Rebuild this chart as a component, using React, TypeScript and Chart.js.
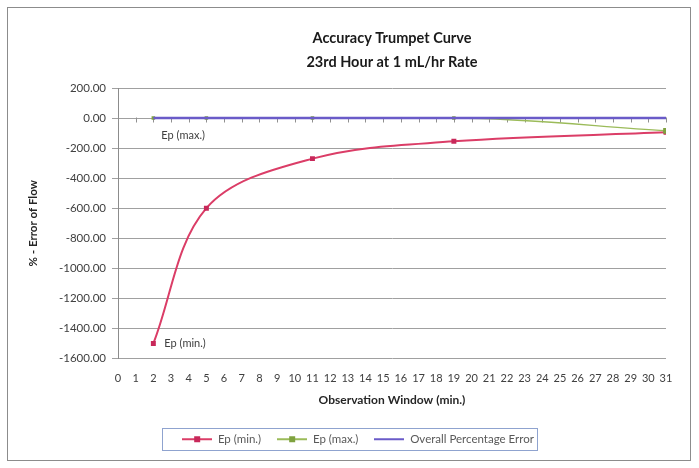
import React, { useEffect, useRef } from "react";
import { Chart, registerables } from "chart.js";

Chart.register(...registerables);

// ---- data ----
const titleLines = ["Accuracy Trumpet Curve", "23rd Hour at 1 mL/hr Rate"];
const xAxisTitle = "Observation Window (min.)";
const yAxisTitle = "% - Error of Flow";
const seriesNames = ["Ep (min.)", "Ep (max.)", "Overall Percentage Error"];
const observationWindows = [2, 5, 11, 19, 31];
const epMinValues = [-1500, -600, -270, -155, -95];
const epMaxValues = [0, 0, 0, 0, -85];
const overallValues = [0, 0, 0, 0, 0];
const yMin = -1600;
const yMax = 200;
const yStep = 200;
const xMin = 0;
const xMax = 31;
const xStep = 1;

// ---- styles ----
const RED = "#DB3D67";
const RED_MARK = "#C8285A";
const GREEN = "#9BBB59";
const GREEN_MARK = "#7FA23F";
const PURPLE = "#6A5BC8";
const GRID = "#A0A0A0";
const TEXT = "#404040";
const FONT = "Lato, 'Open Sans', sans-serif";
const LEG_ICON_W = 30;

function makeIcon(color: string, markerColor: string | null, w: number) {
  const c = document.createElement("canvas");
  c.width = w;
  c.height = 10;
  const ctx = c.getContext("2d")!;
  ctx.strokeStyle = color;
  ctx.lineWidth = 2;
  ctx.beginPath();
  ctx.moveTo(0, 5);
  ctx.lineTo(w, 5);
  ctx.stroke();
  if (markerColor) {
    ctx.fillStyle = markerColor;
    ctx.fillRect(w / 2 - 3, 2, 6, 6);
  }
  return c;
}

const framePlugin = {
  id: "frame",
  beforeDraw(chart: any) {
    const ctx = chart.ctx;
    ctx.save();
    ctx.fillStyle = "#ffffff";
    ctx.fillRect(0, 0, chart.width, chart.height);
    ctx.strokeStyle = "#8C8C8C";
    ctx.lineWidth = 1;
    ctx.strokeRect(7.5, 7.5, 683, 453);
    ctx.restore();
  },
};

const zeroTicksPlugin = {
  id: "zeroTicks",
  beforeDatasetsDraw(chart: any) {
    const { ctx, scales } = chart;
    const y0 = Math.round(scales.y.getPixelForValue(0)) + 0.5;
    ctx.save();
    ctx.strokeStyle = "#909090";
    ctx.lineWidth = 1;
    scales.x.ticks.forEach((t: any) => {
      const px = Math.round(scales.x.getPixelForValue(t.value)) + 0.5;
      ctx.beginPath();
      ctx.moveTo(px, y0 - 1);
      ctx.lineTo(px, y0 + 4);
      ctx.stroke();
    });
    ctx.restore();
  },
};

const dataLabelPlugin = {
  id: "dataLabels",
  afterDatasetsDraw(chart: any) {
    const { ctx, scales } = chart;
    ctx.save();
    ctx.font = `11px ${FONT}`;
    ctx.fillStyle = TEXT;
    ctx.textBaseline = "middle";
    ctx.textAlign = "left";
    const xMaxPx = scales.x.getPixelForValue(observationWindows[0]);
    const yMaxPx = scales.y.getPixelForValue(epMaxValues[0]);
    ctx.fillText(seriesNames[1], xMaxPx + 8, yMaxPx + 17);
    const xMinPx = scales.x.getPixelForValue(observationWindows[0]);
    const yMinPx = scales.y.getPixelForValue(epMinValues[0]);
    ctx.fillText(seriesNames[0], xMinPx + 11, yMinPx);
    ctx.restore();
  },
};

const legendBoxPlugin = {
  id: "legendBox",
  afterDraw(chart: any) {
    const boxes = chart.legend && chart.legend.legendHitBoxes;
    if (!boxes || !boxes.length) return;
    let l = Infinity, r = -Infinity, t = Infinity, b = -Infinity;
    boxes.forEach((h: any) => {
      l = Math.min(l, h.left);
      r = Math.max(r, h.left + h.width);
      t = Math.min(t, h.top);
      b = Math.max(b, h.top + h.height);
    });
    const cy = (t + b) / 2;
    const ctx = chart.ctx;
    ctx.save();
    ctx.strokeStyle = "#8FA3CF";
    ctx.lineWidth = 1;
    ctx.strokeRect(Math.round(l - 20) + 0.5, Math.round(cy - 11) + 0.5, Math.round(r - l + 23), 22);
    ctx.restore();
  },
};

export default function App() {
  const ref = useRef<HTMLCanvasElement | null>(null);

  useEffect(() => {
    if (!ref.current) return;
    const icons = [
      makeIcon(RED, RED_MARK, LEG_ICON_W),
      makeIcon(GREEN, GREEN_MARK, LEG_ICON_W),
      makeIcon(PURPLE, null, LEG_ICON_W),
    ];
    const colors = [RED, GREEN, PURPLE];
    const toPts = (vals: number[]) => observationWindows.map((x, i) => ({ x, y: vals[i] }));

    const chart = new Chart(ref.current, {
      type: "line",
      data: {
        datasets: [
          {
            label: seriesNames[0],
            data: toPts(epMinValues),
            borderColor: RED,
            backgroundColor: RED_MARK,
            borderWidth: 2,
            pointStyle: "rect",
            pointRadius: 3.5,
            pointBorderWidth: 0,
            tension: 0.35,
            order: 2,
          },
          {
            label: seriesNames[1],
            data: toPts(epMaxValues),
            borderColor: GREEN,
            backgroundColor: GREEN_MARK,
            borderWidth: 1.5,
            pointStyle: "rect",
            pointRadius: [2.5, 2.5, 2.5, 2.5, 4],
            pointBorderWidth: 0,
            cubicInterpolationMode: "monotone",
            order: 1,
          },
          {
            label: seriesNames[2],
            data: toPts(overallValues),
            borderColor: PURPLE,
            backgroundColor: PURPLE,
            borderWidth: 2.5,
            pointRadius: 0,
            order: 0,
          },
        ],
      },
      options: {
        animation: false,
        responsive: false,
        maintainAspectRatio: false,
        devicePixelRatio: 1,
        layout: { padding: { top: 26, left: 50, right: 33, bottom: 13 } },
        scales: {
          x: {
            type: "linear",
            min: xMin,
            max: xMax,
            grid: { display: false, drawTicks: false },
            border: { display: false },
            ticks: {
              stepSize: xStep,
              autoSkip: false,
              maxRotation: 0,
              padding: 13,
              color: TEXT,
              font: { family: FONT, size: 11 },
            },
            title: {
              display: true,
              text: xAxisTitle,
              color: "#262626",
              font: { family: FONT, size: 12, weight: "bold" },
              padding: { top: 0, bottom: 10 },
            },
            afterFit(scale: any) {
              scale.height = 59;
            },
          },
          y: {
            type: "linear",
            min: yMin,
            max: yMax,
            grid: { color: GRID, tickLength: 6, lineWidth: 1 },
            border: { display: true, color: "#8C8C8C" },
            ticks: {
              stepSize: yStep,
              padding: 6,
              color: TEXT,
              font: { family: FONT, size: 11.5 },
              callback: (v: any) => Number(v).toFixed(2),
            },
            title: {
              display: true,
              text: yAxisTitle,
              color: "#262626",
              font: { family: FONT, size: 11.5, weight: "bold" },
              padding: { top: -24, bottom: 0 },
            },
            afterFit(scale: any) {
              scale.width = 68;
            },
          },
        },
        plugins: {
          title: {
            display: true,
            text: titleLines,
            fullSize: false,
            color: "#1a1a1a",
            font: { family: FONT, size: 14.5, weight: "bold", lineHeight: "24px" },
            padding: { top: 0, bottom: 14 },
          },
          legend: {
            display: true,
            position: "bottom",
            labels: {
              usePointStyle: true,
              pointStyleWidth: LEG_ICON_W,
              padding: 16,
              color: "#595959",
              font: { family: FONT, size: 11.5 },
              generateLabels: () =>
                seriesNames.map((name, i) => ({
                  text: name,
                  fillStyle: colors[i],
                  strokeStyle: colors[i],
                  fontColor: "#595959",
                  pointStyle: icons[i] as any,
                  lineWidth: 0,
                  hidden: false,
                  datasetIndex: i,
                })),
            },
          },
          tooltip: { enabled: false },
        },
      },
      plugins: [framePlugin, zeroTicksPlugin, dataLabelPlugin, legendBoxPlugin],
    } as any);
    return () => chart.destroy();
  }, []);

  return (
    <div style={{ position: "absolute", left: 0, top: 0, width: 699, height: 468 }}>
      <canvas ref={ref} width={699} height={468} style={{ width: 699, height: 468 }} />
    </div>
  );
}
